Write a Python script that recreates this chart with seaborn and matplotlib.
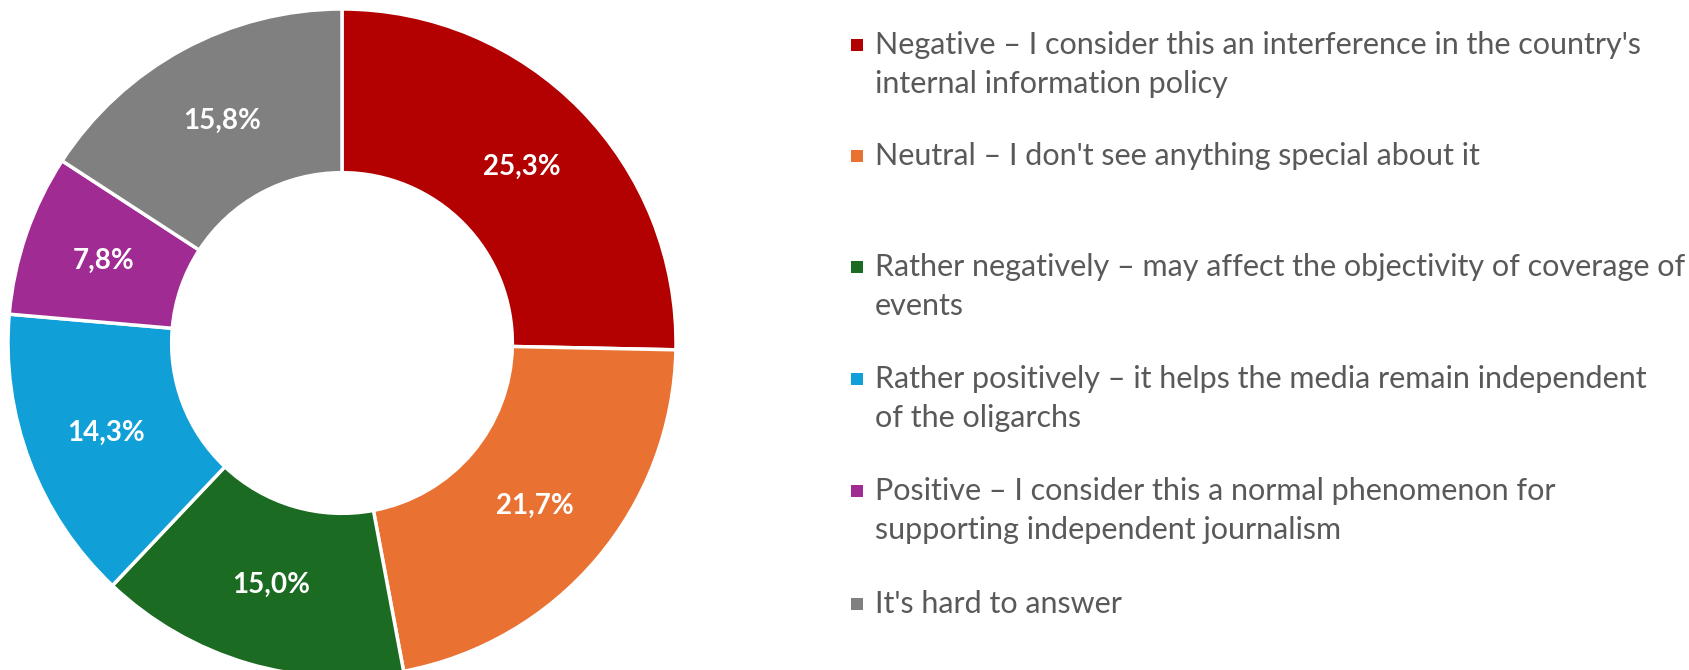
import matplotlib
matplotlib.use("Agg")
import matplotlib.pyplot as plt
import seaborn as sns
from matplotlib.patches import Rectangle

categories = [
    "Negative – I consider this an interference in the country's\ninternal information policy",
    "Neutral – I don't see anything special about it",
    "Rather negatively – may affect the objectivity of coverage of\nevents",
    "Rather positively – it helps the media remain independent\nof the oligarchs",
    "Positive – I consider this a normal phenomenon for\nsupporting independent journalism",
    "It's hard to answer",
]
values = [25.3, 21.7, 15.0, 14.3, 7.8, 15.8]
colors = ["#B30000", "#E97132", "#1B6B23", "#10A0D7", "#A02B93", "#808080"]

sns.set_theme(style="white")
plt.rcParams["font.family"] = ["Lato", "DejaVu Sans"]

W, H = 1689, 670
fig = plt.figure(figsize=(W / 100, H / 100), dpi=100)

cx, cy, R = 342, 343, 334
ax = fig.add_axes([(cx - R) / W, (H - cy - R) / H, 2 * R / W, 2 * R / H])
wedges, texts, autotexts = ax.pie(
    values,
    colors=colors,
    startangle=90,
    counterclock=False,
    radius=1.0,
    wedgeprops=dict(width=0.49, edgecolor="white", linewidth=2.5),
    autopct=lambda p: f"{p:.1f}%".replace(".", ","),
    pctdistance=0.755,
    textprops=dict(color="white", fontsize=20, fontweight="bold"),
)
ax.set_xlim(-1, 1)
ax.set_ylim(-1, 1)
ax.set_aspect("equal")
ax.axis("off")
for w in wedges:
    w.set_clip_on(False)

# legend drawn manually to keep Excel-style even spacing
item_y = [45, 156, 267, 379, 491, 604]
line_gap = 39
mx, tx = 851, 875
msize = 12
for lab, col, y in zip(categories, colors, item_y):
    fig.patches.append(Rectangle(((mx) / W, (H - y - msize / 2) / H), msize / W, msize / H,
                                 transform=fig.transFigure, facecolor=col, edgecolor="none"))
    for i, line in enumerate(lab.split("\n")):
        fig.text(tx / W, (H - y - i * line_gap) / H, line, fontsize=22, color="#595959",
                 va="center", ha="left")

fig.savefig("out.png", dpi=100, facecolor="white")
